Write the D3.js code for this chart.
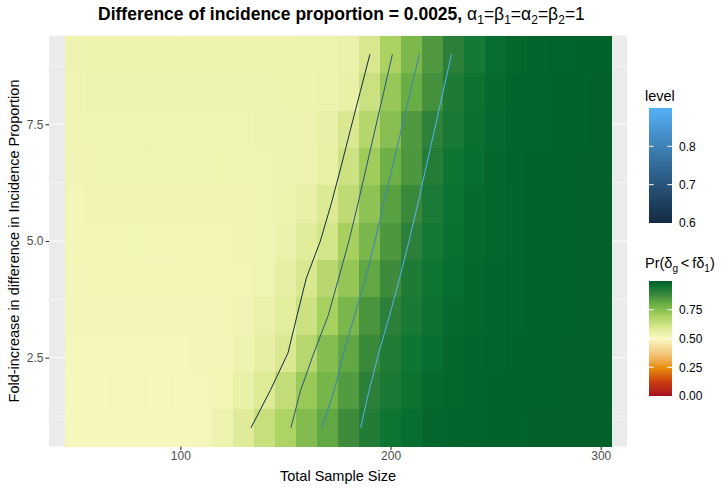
<!DOCTYPE html>
<html>
<head>
<meta charset="utf-8">
<script src="https://cdn.jsdelivr.net/npm/d3@7"></script>
<style>
  body { margin: 0; background: #fff; }
  svg { display: block; font-family: "Liberation Sans", Arial, sans-serif; }
</style>
</head>
<body>
<svg id="chart" width="721" height="490"></svg>
<script>
// ---- Data ------------------------------------------------------------------
var sampleSizes = [50, 60, 70, 80, 90, 100, 110, 120, 130, 140, 150, 160, 170,
                   180, 190, 200, 210, 220, 230, 240, 250, 260, 270, 280, 290, 300];
var foldIncrease = [1, 1.8, 2.6, 3.4, 4.2, 5, 5.8, 6.6, 7.4, 8.2, 9];

// Pr(delta_g < f delta_1), one row per fold-increase value (bottom to top)
var probRow1  = [0.512,0.512,0.513,0.512,0.513,0.513,0.516,0.540,0.580,0.635,0.685,0.760,0.815,0.875,0.925,0.955,0.970,0.980,0.985,0.988,0.990,0.990,0.991,0.991,0.991,0.991];
var probRow2  = [0.514,0.514,0.515,0.515,0.514,0.515,0.517,0.525,0.550,0.585,0.645,0.720,0.780,0.840,0.902,0.940,0.960,0.975,0.983,0.987,0.989,0.990,0.990,0.991,0.991,0.991];
var probRow3  = [0.516,0.517,0.516,0.517,0.517,0.517,0.518,0.520,0.535,0.560,0.595,0.670,0.755,0.815,0.880,0.925,0.955,0.970,0.980,0.985,0.988,0.990,0.990,0.991,0.991,0.991];
var probRow4  = [0.518,0.519,0.519,0.520,0.519,0.519,0.520,0.521,0.527,0.545,0.570,0.625,0.697,0.775,0.855,0.902,0.940,0.960,0.975,0.980,0.985,0.988,0.990,0.990,0.991,0.991];
var probRow5  = [0.521,0.522,0.522,0.522,0.523,0.522,0.522,0.523,0.525,0.532,0.556,0.601,0.665,0.730,0.815,0.875,0.930,0.955,0.970,0.980,0.985,0.988,0.990,0.990,0.991,0.991];
var probRow6  = [0.524,0.525,0.525,0.526,0.525,0.525,0.525,0.526,0.527,0.530,0.545,0.575,0.610,0.697,0.775,0.850,0.905,0.945,0.965,0.975,0.983,0.987,0.990,0.990,0.991,0.991];
var probRow7  = [0.526,0.527,0.527,0.528,0.527,0.527,0.527,0.528,0.528,0.530,0.535,0.550,0.590,0.655,0.740,0.830,0.880,0.935,0.960,0.975,0.982,0.987,0.990,0.990,0.991,0.991];
var probRow8  = [0.528,0.529,0.529,0.530,0.529,0.529,0.529,0.530,0.530,0.531,0.533,0.538,0.554,0.625,0.710,0.795,0.850,0.920,0.955,0.970,0.980,0.987,0.990,0.990,0.991,0.991];
var probRow9  = [0.530,0.531,0.531,0.532,0.531,0.531,0.531,0.532,0.532,0.533,0.534,0.537,0.550,0.595,0.672,0.750,0.845,0.898,0.940,0.965,0.978,0.985,0.988,0.990,0.990,0.991];
var probRow10 = [0.532,0.533,0.533,0.534,0.533,0.533,0.533,0.534,0.534,0.534,0.535,0.537,0.540,0.550,0.630,0.725,0.802,0.865,0.930,0.960,0.975,0.985,0.988,0.990,0.990,0.991];
var probRow11 = [0.534,0.535,0.535,0.536,0.535,0.535,0.535,0.536,0.536,0.536,0.537,0.538,0.540,0.545,0.598,0.690,0.770,0.845,0.905,0.945,0.970,0.980,0.985,0.988,0.990,0.990];
var probRows = [probRow1, probRow2, probRow3, probRow4, probRow5, probRow6,
                probRow7, probRow8, probRow9, probRow10, probRow11];

// contour lines: sample size where each level is crossed, per fold-increase row
var contourLevels = [0.6, 0.7, 0.8, 0.9];
var contour06 = [133.6, 142.8, 151.2, 155.5, 159.9, 166.6, 171.8, 176.5, 181.0, 185.6, 190.2];
var contour07 = [152.6, 157.2, 163.5, 170.3, 175.3, 180.2, 184.5, 188.6, 192.7, 196.8, 200.9];
var contour08 = [167.3, 173.2, 177.6, 182.9, 188.1, 192.6, 196.7, 201.0, 205.2, 209.5, 213.7];
var contour09 = [185.8, 189.8, 194.4, 199.5, 204.3, 208.8, 213.0, 217.0, 221.0, 225.0, 229.0];
var contourXs = [contour06, contour07, contour08, contour09];

var xTicks = [100, 200, 300];
var xMinor = [50, 150, 250];
var yTicks = [2.5, 5.0, 7.5];
var yMinor = [1.25, 3.75, 6.25, 8.75];
var levelTicks = [0.6, 0.7, 0.8];
var fillTicks = [0, 0.25, 0.5, 0.75];

// ---- Layout ----------------------------------------------------------------
var panel = { left: 49, right: 627, top: 35.6, bottom: 446.4 };
var svg = d3.select('#chart');

var x = d3.scaleLinear().domain([37.5, 312.5]).range([panel.left, panel.right]);
var y = d3.scaleLinear().domain([0.6, 9.4]).range([panel.bottom, panel.top]);

var fillStops  = [0, 0.125, 0.25, 0.375, 0.5, 0.6, 0.7, 0.8, 0.9, 0.95, 0.975, 1];
var fillColors = ['#a50f1e', '#cc3c0f', '#e8900c', '#f2c980', '#faf9c3', '#d8e88e',
                  '#a6cf5e', '#6aae45', '#2d8039', '#107833', '#066a2f', '#005c29'];
var fill = d3.scaleLinear().domain(fillStops).range(fillColors).interpolate(d3.interpolateLab);
var lineColor = d3.scaleLinear().domain([0.6, 0.9]).range(['#132B43', '#56B1F7'])
  .interpolate(d3.interpolateLab);

// panel background + grid
svg.append('rect')
  .attr('x', panel.left).attr('y', panel.top)
  .attr('width', panel.right - panel.left).attr('height', panel.bottom - panel.top)
  .attr('fill', '#ebebeb');

var grid = svg.append('g').attr('stroke', '#fff');
grid.selectAll('.ymin').data(yMinor).enter().append('line')
  .attr('x1', panel.left).attr('x2', panel.right)
  .attr('y1', function(d) { return y(d); }).attr('y2', function(d) { return y(d); })
  .attr('stroke-width', 0.55);
grid.selectAll('.ymaj').data(yTicks).enter().append('line')
  .attr('x1', panel.left).attr('x2', panel.right)
  .attr('y1', function(d) { return y(d); }).attr('y2', function(d) { return y(d); })
  .attr('stroke-width', 1.1);
grid.selectAll('.xmin').data(xMinor).enter().append('line')
  .attr('y1', panel.top).attr('y2', panel.bottom)
  .attr('x1', function(d) { return x(d); }).attr('x2', function(d) { return x(d); })
  .attr('stroke-width', 0.55);
grid.selectAll('.xmaj').data(xTicks).enter().append('line')
  .attr('y1', panel.top).attr('y2', panel.bottom)
  .attr('x1', function(d) { return x(d); }).attr('x2', function(d) { return x(d); })
  .attr('stroke-width', 1.1);

// tiles
var cells = [];
probRows.forEach(function(row, i) {
  row.forEach(function(v, j) {
    cells.push({ sx: sampleSizes[j], fy: foldIncrease[i], v: v });
  });
});
svg.append('g').attr('shape-rendering', 'crispEdges')
  .selectAll('rect').data(cells).enter().append('rect')
  .attr('x', function(d) { return x(d.sx - 5); })
  .attr('width', function(d) { return x(d.sx + 5) - x(d.sx - 5) + 0.3; })
  .attr('y', function(d) { return y(d.fy + 0.4); })
  .attr('height', function(d) { return y(d.fy - 0.4) - y(d.fy + 0.4) + 0.3; })
  .attr('fill', function(d) { return fill(d.v); });

// contour lines
var line = d3.line()
  .x(function(d) { return x(d[0]); })
  .y(function(d) { return y(d[1]); });
contourXs.forEach(function(xs, k) {
  var pts = xs.map(function(sx, i) { return [sx, foldIncrease[i]]; });
  svg.append('path').datum(pts)
    .attr('d', line)
    .attr('fill', 'none')
    .attr('stroke', lineColor(contourLevels[k]))
    .attr('stroke-width', 1);
});

// axes
var xAxis = svg.append('g').attr('transform', 'translate(0,' + panel.bottom + ')')
  .call(d3.axisBottom(x).tickValues(xTicks).tickSize(3.5).tickPadding(2).tickFormat(d3.format('d')));
var yAxis = svg.append('g').attr('transform', 'translate(' + panel.left + ',0)')
  .call(d3.axisLeft(y).tickValues(yTicks).tickSize(3.5).tickPadding(2).tickFormat(d3.format('.1f')));
[xAxis, yAxis].forEach(function(a) {
  a.select('.domain').remove();
  a.selectAll('.tick line').attr('stroke', '#333').attr('stroke-width', 1.1);
  a.selectAll('.tick text').attr('fill', '#4d4d4d')
    .style('font-size', '12px').style('font-family', '"Liberation Sans", Arial, sans-serif');
});

svg.append('text')
  .attr('x', (panel.left + panel.right) / 2).attr('y', 481)
  .attr('text-anchor', 'middle').style('font-size', '14.5px')
  .text('Total Sample Size');
svg.append('text')
  .attr('transform', 'translate(19,' + ((panel.top + panel.bottom) / 2) + ') rotate(-90)')
  .attr('text-anchor', 'middle').style('font-size', '14.5px')
  .text('Fold-increase in difference in Incidence Proportion');

// title: bold text followed by plotmath-style greek with subscripts
var title = svg.append('text').attr('x', 98).attr('y', 20).style('font-size', '17.5px');
title.append('tspan').attr('font-weight', 'bold').text('Difference of incidence proportion = 0.0025, ');
var greek = [['\u03b1', '1'], ['\u03b2', '1'], ['\u03b1', '2'], ['\u03b2', '2']];
greek.forEach(function(p, i) {
  var t = title.append('tspan').text((i > 0 ? '=' : '') + p[0]);
  if (i > 0) t.attr('dy', -4);
  title.append('tspan').attr('dy', 4).style('font-size', '12px').text(p[1]);
});
title.append('tspan').attr('dy', -4).text('=1');

// ---- Legends ---------------------------------------------------------------
var defs = svg.append('defs');
function colorbar(id, y0, y1, domain, colorFn, ticks, fmt) {
  var bx = 649, bw = 23;
  var grad = defs.append('linearGradient').attr('id', id)
    .attr('x1', 0).attr('y1', 1).attr('x2', 0).attr('y2', 0);
  d3.range(0, 1.0001, 0.02).forEach(function(t) {
    grad.append('stop').attr('offset', t)
      .attr('stop-color', colorFn(domain[0] + t * (domain[1] - domain[0])));
  });
  svg.append('rect').attr('x', bx).attr('y', y0).attr('width', bw).attr('height', y1 - y0)
    .attr('fill', 'url(#' + id + ')');
  var s = d3.scaleLinear().domain(domain).range([y1, y0]);
  var g = svg.append('g');
  ticks.forEach(function(t) {
    var ty = s(t);
    if (t > domain[0]) {
      g.append('line').attr('x1', bx).attr('x2', bx + 4.6).attr('y1', ty).attr('y2', ty)
        .attr('stroke', '#fff').attr('stroke-width', 1);
      g.append('line').attr('x1', bx + bw - 4.6).attr('x2', bx + bw).attr('y1', ty).attr('y2', ty)
        .attr('stroke', '#fff').attr('stroke-width', 1);
    }
    g.append('text').attr('x', 679).attr('y', ty + 4.3).style('font-size', '12px')
      .text(fmt(t));
  });
}

svg.append('text').attr('x', 645).attr('y', 101).style('font-size', '14.5px').text('level');
colorbar('levelGrad', 108, 223, [0.6, 0.9], lineColor, levelTicks, d3.format('.1f'));

var ft = svg.append('text').attr('x', 645).attr('y', 268).style('font-size', '14.5px');
ft.append('tspan').text('Pr(\u03b4');
ft.append('tspan').attr('dy', 4).style('font-size', '10px').text('g');
ft.append('tspan').attr('dy', -4).text('\u2009<\u2009f\u03b4');
ft.append('tspan').attr('dy', 4).style('font-size', '10px').text('1');
ft.append('tspan').attr('dy', -4).text(')');
colorbar('fillGrad', 281, 396, [0, 1], fill, fillTicks, d3.format('.2f'));
</script>
</body>
</html>
